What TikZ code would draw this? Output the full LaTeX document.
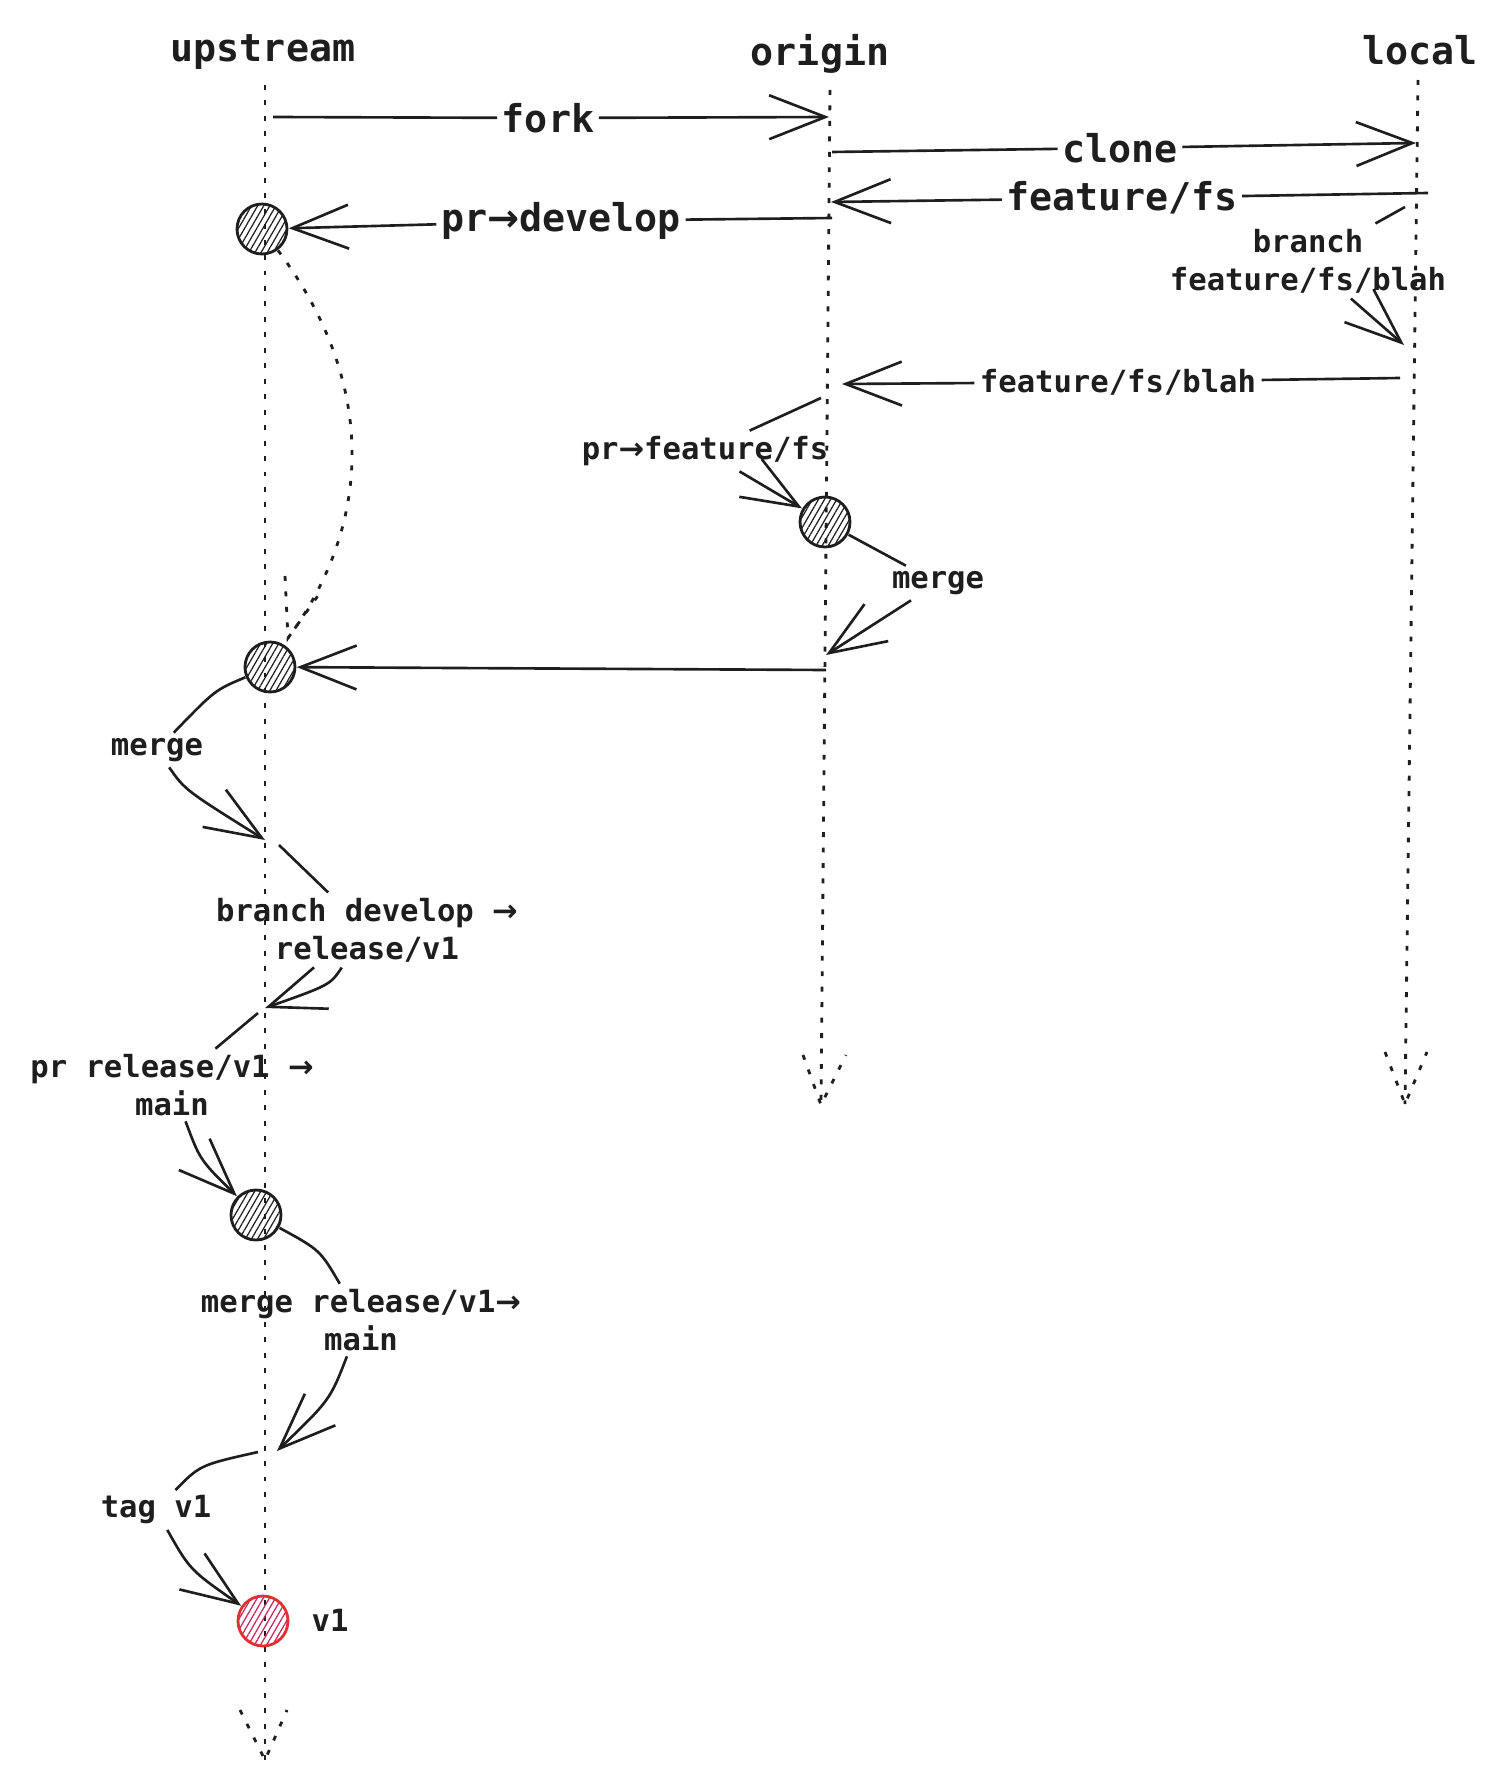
\documentclass[tikz,border=0pt]{standalone}
\usepackage{fontspec}
\newfontfamily\sketch{DejaVu Sans Mono}
\newfontfamily\arw{DejaVu Sans}
\newcommand{\tarr}{{\arw →}}
\usetikzlibrary{arrows.meta,patterns.meta}
\definecolor{ink}{HTML}{1E1E1E}
\definecolor{tagred}{HTML}{E03131}
\definecolor{tagpink}{HTML}{C2255C}
\begin{document}
\begin{tikzpicture}[x=0.02cm,y=-0.02cm,color=ink,
  hd/.style={font=\sketch\bfseries\fontsize{21.8}{26}\selectfont,inner sep=2pt},
  lb/.style={font=\sketch\bfseries\fontsize{21.8}{26}\selectfont,inner sep=2.5pt},
  sm/.style={font=\sketch\bfseries\fontsize{17.4}{21.5}\selectfont,align=center,inner sep=3pt},
  commit/.style={circle,draw,line width=1.6pt,minimum size=1cm,inner sep=0pt,outer sep=1pt,pattern={Lines[angle=60,distance=3pt,line width=0.7pt]},pattern color=ink},
  life/.style={line width=1.6pt,dash pattern=on 2.8pt off 6pt},
  arr/.style={line width=1.5pt,-{Straight Barb[length=32pt,width=25pt]}}]
  \useasboundingbox (0,0) rectangle (1499,1780);
  \node[hd] (upstream) at (263,52){upstream};
  \node[hd] (origin) at (820,54){origin};
  \node[hd] (local) at (1420,50){local};
  \coordinate (ut) at (265,85); \coordinate (ub) at (265,1760);
  \coordinate (ot) at (830,90); \coordinate (ob) at (821,1105);
  \coordinate (lt) at (1418,80); \coordinate (lb) at (1405,1104);
  \draw[life] (ut) -- (ub); \draw[life] (ub) ++(-25,-50) -- (ub) -- ++(22,-50);
  \draw[life] (ot) -- (ob); \draw[life] (ob) ++(-18,-50) -- (ob) -- ++(25,-50);
  \draw[life] (lt) -- (lb); \draw[life] (lb) ++(-20,-52) -- (lb) -- ++(22,-52);
  \node[commit] (c1) at (262,229){};
  \node[commit] (c2) at (270,667){};
  \node[commit] (c3) at (825,522){};
  \node[commit] (c4) at (256,1215){};
  \node[commit,draw=tagred,pattern color=tagpink] (c5) at (263,1621){};
  \node[sm] (v1) at (330,1620){v1};
  \node[lb] (fork) at (548,118){fork};
  \node[lb] (clone) at (1120,148){clone};
  \node[lb] (fs) at (1122,198){feature/fs};
  \node[lb] (prdev) at (561,221){pr\tarr develop};
  \node[sm] (brblah) at (1308,261){branch\\feature/fs/blah};
  \node[sm] (blah) at (1118,382){feature/fs/blah};
  \node[sm] (prfs) at (705,451){pr\tarr feature/fs};
  \node[sm] (mrg1) at (938,583){merge};
  \node[sm] (mrg2) at (157,750){merge};
  \node[sm] (brdev) at (367,930){branch develop \tarr\\release/v1};
  \node[sm] (prrel) at (172,1085){pr release/v1 \tarr\\main};
  \node[sm] (mrgrel) at (361,1320){merge release/v1\tarr\\main};
  \node[sm] (tag) at (156,1510){tag v1};
  \coordinate (fk1) at (273,117); \coordinate (fk2) at (829,117);
  \coordinate (cl1) at (832,152); \coordinate (cl2) at (1416,143);
  \coordinate (fs1) at (1428,193); \coordinate (fs2) at (831,202);
  \coordinate (pd1) at (832,218);
  \coordinate (bb1) at (1405,207); \coordinate (bb2) at (1404,345);
  \coordinate (bl1) at (1400,378); \coordinate (bl2) at (842,384);
  \coordinate (pf1) at (821,398);
  \coordinate (mg1) at (826,655);
  \coordinate (pm1) at (826,670);
  \coordinate (dt) at (288,638);
  \coordinate (mg2) at (265,840);
  \coordinate (bd1) at (279,845); \coordinate (bd2) at (265,1008);
  \coordinate (pr1) at (258,1013);
  \coordinate (mr1) at (277,1451);
  \coordinate (tg1) at (258,1452);
  \draw[arr] (fk1) -- (fork) -- (fk2);
  \draw[arr] (cl1) -- (clone) -- (cl2);
  \draw[arr] (fs1) -- (fs) -- (fs2);
  \draw[arr] (pd1) -- (prdev) -- (c1);
  \draw[arr] (bb1) -- (brblah) -- (bb2);
  \draw[arr] (bl1) -- (blah) -- (bl2);
  \draw[arr] (pf1) -- (prfs) -- (c3);
  \draw[arr] (c3) -- (mrg1) -- (mg1);
  \draw[arr] (pm1) -- (c2);
  \draw[life] (c1) .. controls (375,380) and (375,520) .. (dt);
  \draw[life] (dt) ++(-3,-62) -- (dt) -- ++(34,-48);
  \draw[arr] (c2) .. controls (215,690) .. (mrg2) .. controls (185,790) .. (mg2);
  \draw[arr] (bd1) -- (brdev) .. controls (330,985) .. (bd2);
  \draw[arr] (pr1) -- (prrel) .. controls (200,1160) .. (c4);
  \draw[arr] (c4) .. controls (320,1250) .. (mrgrel) .. controls (330,1400) .. (mr1);
  \draw[arr] (tg1) .. controls (200,1465) .. (tag) .. controls (190,1570) .. (c5);
\end{tikzpicture}
\end{document}
